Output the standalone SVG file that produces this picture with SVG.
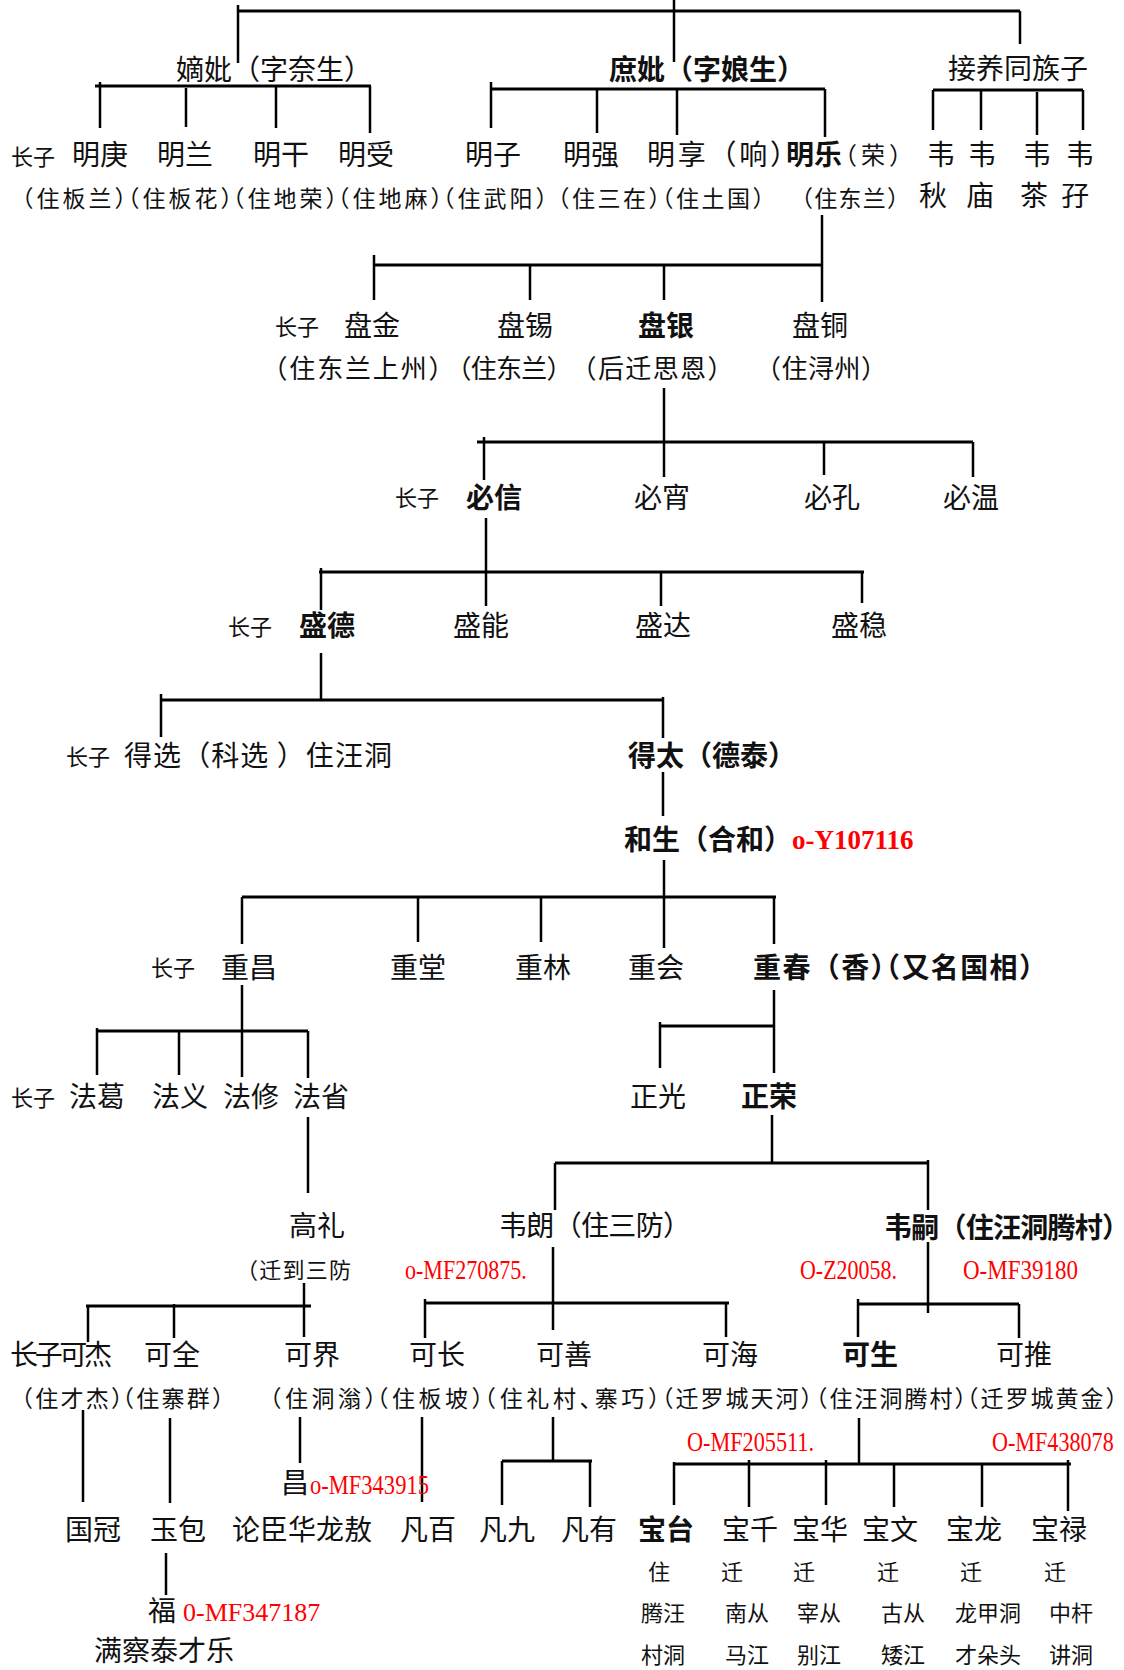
<svg xmlns="http://www.w3.org/2000/svg" width="1124" height="1670" viewBox="0 0 1124 1670">
<style>
text{font-family:"Noto Sans CJK SC","Noto Sans",sans-serif;fill:#111}
.n{font-size:28px}
.b{font-size:28px;font-weight:bold}
.s{font-size:22px}
.h{font-feature-settings:"halt"}
.r{font-size:23px;text-anchor:middle;font-feature-settings:"halt"}
.r26{font-size:26px;text-anchor:middle;font-feature-settings:"halt"}
.code{font-family:"Liberation Serif","Times New Roman",serif;font-size:27px;fill:#ff0000}
.codeb{font-family:"Liberation Serif","Times New Roman",serif;font-size:27px;font-weight:bold;fill:#ff0000}
.r22{font-size:22px;text-anchor:middle}
#connectors path{stroke:#000;stroke-width:2.5;fill:none}
#connectors path.bar{stroke-width:3}
</style>
<rect width="1124" height="1670" fill="#fff"/>
<g id="connectors">
<path class="bar" d="M238,11H1020"/>
<path d="M238,5V63M674,0V62M1020,11V44"/>
<path class="bar" d="M95,86H371M491,89H825M933,90H1083"/>
<path d="M100,82V128M186,88V127M276,86V128M370,86V133"/>
<path d="M491,82V128M597,89V133M677,89V135M825,89V137"/>
<path d="M933,90V130M981,90V130M1037,92V135M1083,90V130"/>
<path d="M822,215V302"/>
<path class="bar" d="M374,265H822"/>
<path d="M374,255V300M530,265V300M664,265V300"/>
<path d="M664,388V477"/>
<path class="bar" d="M477,442H973"/>
<path d="M484,437V480M824,442V475M973,442V477"/>
<path d="M486,518V606"/>
<path class="bar" d="M319,572H864"/>
<path d="M321,568V610M661,572V606M862,572V603"/>
<path d="M321,653V700"/>
<path class="bar" d="M161,700H663"/>
<path d="M161,694V737M663,697V738"/>
<path d="M663,772V816"/>
<path d="M664,860V948"/>
<path class="bar" d="M242,897H776"/>
<path d="M242,897V944M418,897V942M541,897V942M774,897V944"/>
<path d="M242,985V1077"/>
<path class="bar" d="M97,1031H308"/>
<path d="M97,1028V1075M179,1031V1075M308,1031V1078"/>
<path d="M774,990V1073"/>
<path class="bar" d="M660,1026H774"/>
<path d="M660,1022V1068"/>
<path d="M772,1115V1163"/>
<path class="bar" d="M555,1163H928"/>
<path d="M555,1163V1210M928,1160V1210"/>
<path d="M308,1117V1193"/>
<path d="M304,1283V1337"/>
<path class="bar" d="M86,1306H311"/>
<path d="M88,1306V1342M174,1304V1338"/>
<path d="M553,1247V1330"/>
<path class="bar" d="M425,1303H729"/>
<path d="M425,1299V1338M726,1303V1337"/>
<path d="M928,1242V1313"/>
<path class="bar" d="M858,1304H1019"/>
<path d="M858,1299V1337M1019,1304V1338"/>
<path d="M83,1410V1502M170,1418V1503M300,1417V1463M422,1417V1502M553,1417V1462"/>
<path class="bar" d="M502,1461H592"/>
<path d="M502,1461V1505M590,1461V1507"/>
<path d="M859,1418V1464"/>
<path class="bar" d="M674,1464H1071"/>
<path d="M674,1462V1505M749,1460V1507M826,1460V1505M894,1464V1507M982,1464V1507M1068,1460V1511"/>
<path d="M166,1553V1595"/>
</g>

<g id="n-dibi"><text class="n" x="176" y="80">嫡妣（字奈生<tspan class="h">）</tspan></text></g>
<g id="n-shubi"><text class="b" x="609" y="80">庶妣（字娘生<tspan class="h">）</tspan></text></g>
<g id="n-jieyang"><text class="n" x="948" y="79">接养同族子</text></g>

<g id="n-minggeng"><text class="s" x="11" y="165">长子</text><text class="n" x="72" y="165">明庚</text><text class="r" x="74" y="207" textLength="104">（住板兰）</text></g>
<g id="n-minglan"><text class="n" x="157" y="165">明兰</text><text class="r" x="180" y="207" textLength="104">（住板花）</text></g>
<g id="n-minggan"><text class="n" x="253" y="165">明干</text><text class="r" x="285" y="207" textLength="104">（住地荣）</text></g>
<g id="n-mingshou"><text class="n" x="338" y="165">明受</text><text class="r" x="390" y="207" textLength="104">（住地麻）</text></g>
<g id="n-mingzi"><text class="n" x="465" y="165">明子</text><text class="r" x="495" y="207" textLength="104">（住武阳）</text></g>
<g id="n-mingqiang"><text class="n" x="563" y="165">明强</text><text class="r" x="609" y="207" textLength="102">（住三在）</text></g>
<g id="n-mingxiang"><text class="n" x="647" y="165" textLength="137">明享（响<tspan class="h">）</tspan></text><text class="r" x="713" y="207" textLength="102">（住土国）</text></g>
<g id="n-mingle"><text class="b" x="786" y="165">明乐</text><text class="r" x="873" y="164" style="font-size:24px" textLength="56">（荣）</text><text class="r" x="850" y="207" textLength="97">（住东兰）</text></g>
<g id="n-weiqiu"><text class="n" x="927" y="165">韦</text><text class="n" x="919" y="206">秋</text></g>
<g id="n-weimiao"><text class="n" x="968" y="165">韦</text><text class="n" x="966" y="206">庙</text></g>
<g id="n-weicha"><text class="n" x="1023" y="165">韦</text><text class="n" x="1020" y="206">茶</text></g>
<g id="n-weizi"><text class="n" x="1066" y="165">韦</text><text class="n" x="1061" y="206">孖</text></g>

<g id="n-panjin"><text class="s" x="275" y="335">长子</text><text class="n" x="344" y="336">盘金</text><text class="r26" x="358" y="378" textLength="167">（住东兰上州）</text></g>
<g id="n-panxi"><text class="n" x="497" y="336">盘锡</text><text class="r26" x="509" y="378" textLength="101">（住东兰）</text></g>
<g id="n-panyin"><text class="b" x="638" y="336">盘银</text><text class="r26" x="652" y="378" textLength="137">（后迁思恩）</text></g>
<g id="n-pantong"><text class="n" x="792" y="336">盘铜</text><text class="r26" x="821" y="378" textLength="106">（住浔州）</text></g>

<g id="n-bixin"><text class="s" x="395" y="506">长子</text><text class="b" x="466" y="508">必信</text></g>
<g id="n-bixiao"><text class="n" x="634" y="508">必宵</text></g>
<g id="n-bikong"><text class="n" x="804" y="508">必孔</text></g>
<g id="n-biwen"><text class="n" x="943" y="508">必温</text></g>

<g id="n-shengde"><text class="s" x="228" y="635">长子</text><text class="b" x="299" y="636">盛德</text></g>
<g id="n-shengneng"><text class="n" x="453" y="636">盛能</text></g>
<g id="n-shengda"><text class="n" x="635" y="636">盛达</text></g>
<g id="n-shengwen"><text class="n" x="831" y="636">盛稳</text></g>

<g id="n-dexuan"><text class="s" x="66" y="765">长子</text><text class="n" x="124" y="766" textLength="268">得选（科选 ）住汪洞</text></g>
<g id="n-detai"><text class="b" x="628" y="766">得太（德泰<tspan class="h">）</tspan></text></g>
<g id="n-hesheng"><text class="b" x="624" y="850">和生（合和<tspan class="h">）</tspan></text><text class="codeb" x="792" y="849">o-Y107116</text></g>

<g id="n-chongchang"><text class="s" x="151" y="976">长子</text><text class="n" x="221" y="978">重昌</text></g>
<g id="n-chongtang"><text class="n" x="390" y="978">重堂</text></g>
<g id="n-chonglin"><text class="n" x="515" y="978">重林</text></g>
<g id="n-chonghui"><text class="n" x="628" y="978">重会</text></g>
<g id="n-chongchun"><text class="b" x="753" y="978" textLength="280">重春（香<tspan class="h">）</tspan>（又名国相<tspan class="h">）</tspan></text></g>

<g id="n-fage"><text class="s" x="11" y="1106">长子</text><text class="n" x="69" y="1107">法葛</text></g>
<g id="n-fayi"><text class="n" x="152" y="1107">法义</text></g>
<g id="n-faxiu"><text class="n" x="223" y="1107">法修</text></g>
<g id="n-fasheng"><text class="n" x="293" y="1107">法省</text></g>
<g id="n-zhengguang"><text class="n" x="630" y="1107">正光</text></g>
<g id="n-zhengrong"><text class="b" x="741" y="1107">正荣</text></g>

<g id="n-gaoli"><text class="n" x="289" y="1236">高礼</text><text class="s h" x="247" y="1278" textLength="104">（迁到三防</text></g>
<g id="n-weilang"><text class="n" x="499" y="1236" textLength="178">韦朗（住三防<tspan class="h">）</tspan></text><text class="code" transform="translate(405,1279) scale(0.817,1)">o-MF270875.</text></g>
<g id="n-weisi"><text class="b" x="884" y="1238" textLength="232">韦嗣（住汪洞腾村<tspan class="h">）</tspan></text><text class="code" transform="translate(800,1279) scale(0.814,1)">O-Z20058.</text><text class="code" transform="translate(963,1279) scale(0.852,1)">O-MF39180</text></g>

<g id="n-kejie"><text class="n" x="10" y="1365" textLength="102">长子可杰</text><text class="r" x="72" y="1407" textLength="101">（住才杰）</text></g>
<g id="n-kequan"><text class="n" x="144" y="1365">可全</text><text class="r" x="173" y="1407" textLength="101">（住寨群）</text></g>
<g id="n-kejie2"><text class="n" x="284" y="1365">可界</text><text class="r" x="323" y="1407" textLength="106">（住洞滃）</text></g>
<g id="n-kechang"><text class="n" x="409" y="1365">可长</text><text class="r" x="430" y="1407" textLength="106">（住板坡）</text></g>
<g id="n-keshan"><text class="n" x="536" y="1365">可善</text><text class="r" x="572" y="1407" textLength="175">（住礼村、寨巧）</text></g>
<g id="n-kehai"><text class="n" x="702" y="1365">可海</text><text class="r" x="737" y="1407" textLength="150">（迁罗城天河）</text></g>
<g id="n-kesheng"><text class="b" x="842" y="1365">可生</text><text class="r" x="891" y="1407" textLength="150">（住汪洞腾村）</text><text class="code" transform="translate(687,1451) scale(0.824,1)">O-MF205511.</text><text class="code" transform="translate(992,1451) scale(0.82,1)">O-MF438078</text></g>
<g id="n-ketui"><text class="n" x="996" y="1365">可推</text><text class="r" x="1042" y="1407" textLength="150">（迁罗城黄金）</text></g>

<g id="n-chang"><text class="n" x="281" y="1493">昌</text><text class="code" transform="translate(310,1494) scale(0.835,1)">o-MF343915</text></g>
<g id="n-guoguan"><text class="n" x="65" y="1540">国冠</text></g>
<g id="n-yubao"><text class="n" x="150" y="1540">玉包</text></g>
<g id="n-lunchen"><text class="n" x="232" y="1540">论臣华龙敖</text></g>
<g id="n-fanbai"><text class="n" x="400" y="1540">凡百</text></g>
<g id="n-fanjiu"><text class="n" x="479" y="1540">凡九</text></g>
<g id="n-fanyou"><text class="n" x="561" y="1540">凡有</text></g>
<g id="n-fu"><text class="n" x="148" y="1621">福</text><text class="code" x="183" y="1621" style="font-size:26px">0-MF347187</text><text class="n" x="94" y="1661">满察泰才乐</text></g>

<g id="n-baotai"><text class="b" x="638" y="1540">宝台</text><text class="r22" x="659" y="1580">住</text><text class="r22" x="663" y="1621">腾汪</text><text class="r22" x="663" y="1663">村洞</text></g>
<g id="n-baoqian"><text class="n" x="722" y="1540">宝千</text><text class="r22" x="732" y="1580">迁</text><text class="r22" x="747" y="1621">南从</text><text class="r22" x="747" y="1663">马江</text></g>
<g id="n-baohua"><text class="n" x="792" y="1540">宝华</text><text class="r22" x="804" y="1580">迁</text><text class="r22" x="819" y="1621">宰从</text><text class="r22" x="819" y="1663">别江</text></g>
<g id="n-baowen"><text class="n" x="862" y="1540">宝文</text><text class="r22" x="888" y="1580">迁</text><text class="r22" x="903" y="1621">古从</text><text class="r22" x="903" y="1663">矮江</text></g>
<g id="n-baolong"><text class="n" x="946" y="1540">宝龙</text><text class="r22" x="971" y="1580">迁</text><text class="r22" x="988" y="1621">龙甲洞</text><text class="r22" x="988" y="1663">才朵头</text></g>
<g id="n-baolu"><text class="n" x="1031" y="1540">宝禄</text><text class="r22" x="1055" y="1580">迁</text><text class="r22" x="1071" y="1621">中杆</text><text class="r22" x="1071" y="1663">讲洞</text></g>
</svg>
